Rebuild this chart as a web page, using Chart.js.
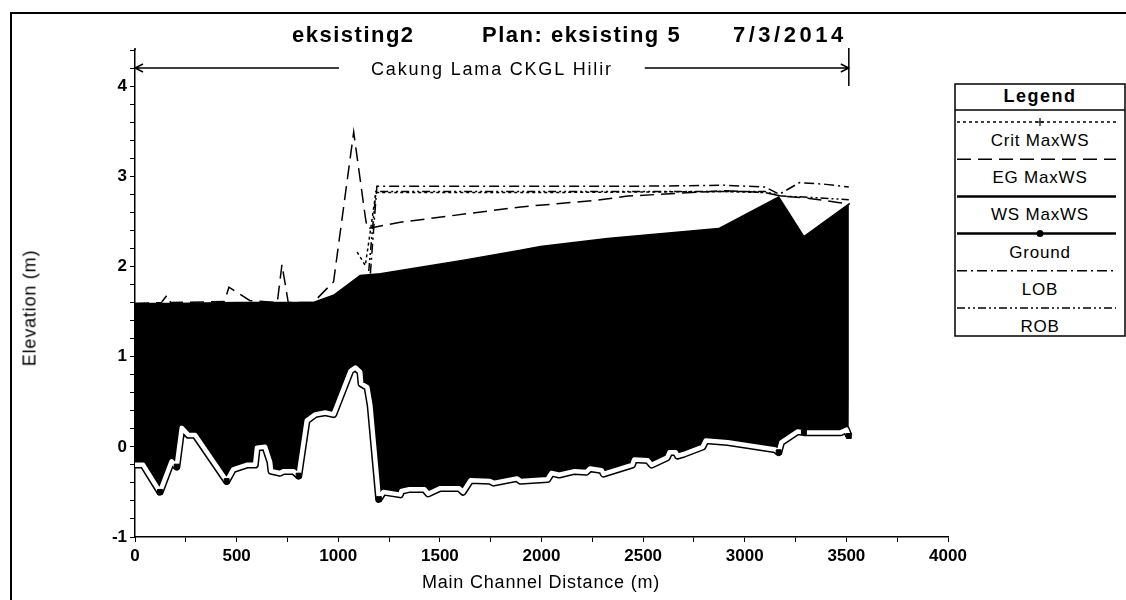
<!DOCTYPE html>
<html>
<head>
<meta charset="utf-8">
<script src="https://cdn.jsdelivr.net/npm/chart.js@4.4.0/dist/chart.umd.min.js"></script>
<style>
  body { margin: 0; background: #fff; font-family: Arial, "Liberation Sans", sans-serif; }
  #wrap { position: relative; width: 1126px; height: 600px; overflow: hidden; }
  #frame { position: absolute; left: 10px; top: 12px; width: 1200px; height: 700px;
           border-left: 2px solid #000; border-top: 2px solid #000; }
  canvas { position: absolute; left: 0; top: 0; }
  .ttl { position: absolute; top: 22px; font-weight: bold; font-size: 22px; letter-spacing: 1.5px; white-space: pre; }
  .axt { position: absolute; font-size: 18px; letter-spacing: 0.8px; white-space: pre; transform: translate(-50%, -50%); }
  #legend { position: absolute; left: 954px; top: 83px; }
</style>
</head>
<body>
<div id="wrap">
  <div id="frame"></div>
  <canvas id="profileChart" width="1126" height="600"></canvas>
  <div class="ttl" style="left:292px">eksisting2</div>
  <div class="ttl" style="left:482px">Plan: eksisting 5</div>
  <div class="ttl" style="left:733px;letter-spacing:3.5px">7/3/2014</div>
  <div class="axt" style="left:541px;top:582px">Main Channel Distance (m)</div>
  <div class="axt" style="left:30px;top:308px;transform:translate(-50%,-50%) rotate(-90deg)">Elevation (m)</div>
  <svg id="legend" width="172" height="254"></svg>
</div>
<script>
// ---- data (station m, elevation m) ----
const groundX = [0, 40, 123, 180, 205, 230, 263, 296, 451, 483, 550, 591, 600, 640, 665, 670, 714, 730, 780, 805,
  845, 887, 936, 977, 1060, 1084, 1108, 1113, 1143, 1158, 1200, 1222, 1305, 1311, 1350, 1424, 1443, 1500, 1595,
  1614, 1651, 1746, 1765, 1879, 1898, 2030, 2049, 2087, 2163, 2220, 2239, 2296, 2305, 2447, 2456, 2523, 2542,
  2618, 2630, 2660, 2670, 2700, 2793, 2808, 2916, 3150, 3167, 3180, 3261, 3291, 3473, 3500, 3512];
const groundY = [-0.2, -0.2, -0.5, -0.16, -0.22, 0.21, 0.13, 0.13, -0.38, -0.25, -0.2, -0.2, -0.01, 0, -0.17, -0.27, -0.29, -0.27, -0.27, -0.32,
  0.29, 0.36, 0.38, 0.36, 0.84, 0.88, 0.83, 0.7, 0.66, 0.46, -0.58, -0.5, -0.53, -0.49, -0.47, -0.47, -0.52, -0.46, -0.46,
  -0.5, -0.37, -0.38, -0.4, -0.35, -0.38, -0.36, -0.29, -0.31, -0.27, -0.28, -0.24, -0.26, -0.3, -0.2, -0.14, -0.15, -0.2,
  -0.12, -0.06, -0.06, -0.1, -0.08, 0, 0.07, 0.05, -0.03, -0.06, 0.05, 0.17, 0.16, 0.16, 0.19, 0.12];
const groundMarks = [123, 205, 451, 805, 1200, 3167, 3291, 3512];

const wsX = [0, 200, 500, 877, 977, 1108, 1207, 1617, 1897, 1995, 2325, 2872, 3167, 3291, 3517];
const wsY = [1.59, 1.59, 1.6, 1.6, 1.68, 1.9, 1.92, 2.07, 2.18, 2.22, 2.31, 2.42, 2.77, 2.33, 2.7];

const egX = [0, 130, 157, 175, 440, 462, 566, 700, 723, 754, 877, 977, 1076, 1133, 1143, 1305, 1897, 2256, 2424, 2900, 3100, 3180, 3300, 3458, 3512];
const egY = [1.59, 1.6, 1.68, 1.6, 1.61, 1.77, 1.62, 1.6, 2.02, 1.6, 1.6, 1.83, 3.49, 2.55, 2.42, 2.49, 2.66, 2.73, 2.78, 2.84, 2.82, 2.78, 2.76, 2.71, 2.69];

const critX = [1093, 1133, 1165, 1185, 2000, 2900, 3100];
const critY = [2.16, 2.01, 2.5, 2.82, 2.82, 2.83, 2.82];

const lobX = [1158, 1190, 2500, 2900, 3100, 3170, 3270, 3400, 3512];
const lobY = [1.92, 2.89, 2.89, 2.9, 2.88, 2.8, 2.93, 2.91, 2.88];

const robX = [1150, 1185, 3100, 3180, 3290, 3512];
const robY = [1.95, 2.83, 2.83, 2.78, 2.77, 2.74];

const xTickLabels = [0, 500, 1000, 1500, 2000, 2500, 3000, 3500, 4000];
const yTickLabels = [-1, 0, 1, 2, 3, 4];

const reachName = 'Cakung Lama CKGL Hilir';
const reachStart = 0;
const reachEnd = 3512;

const pts = (xs, ys) => xs.map((x, i) => ({ x: x, y: ys[i] }));

// legend entries: label + line style
const legendItems = [
  { label: 'Crit MaxWS', dash: [3, 3], width: 1.5, mark: 'cross' },
  { label: 'EG MaxWS', dash: [14, 7], width: 1.5 },
  { label: 'WS MaxWS', dash: [], width: 2.5 },
  { label: 'Ground', dash: [], width: 2.5, mark: 'dot' },
  { label: 'LOB', dash: [10, 4, 2, 4], width: 1.5 },
  { label: 'ROB', dash: [8, 3, 2, 3, 2, 3], width: 1.5 }
];

// reach arrow drawn above the plot
const reachArrow = {
  id: 'reachArrow',
  afterDraw(chart) {
    const ctx = chart.ctx;
    const xs = chart.scales.x;
    const x0 = xs.getPixelForValue(reachStart);
    const x1 = xs.getPixelForValue(reachEnd);
    const y = 68;
    ctx.save();
    ctx.font = '18px Arial';
    ctx.letterSpacing = '1.8px';
    const w = ctx.measureText(reachName).width;
    const cx = (x0 + x1) / 2;
    ctx.fillStyle = '#000';
    ctx.textAlign = 'center';
    ctx.textBaseline = 'middle';
    ctx.fillText(reachName, cx, y + 2);
    ctx.strokeStyle = '#000';
    ctx.lineWidth = 1.5;
    ctx.beginPath();
    ctx.moveTo(x0, y); ctx.lineTo(cx - w / 2 - 32, y);
    ctx.moveTo(cx + w / 2 + 32, y); ctx.lineTo(x1, y);
    // arrow heads
    ctx.moveTo(x0 + 8, y - 4); ctx.lineTo(x0, y); ctx.lineTo(x0 + 8, y + 4);
    ctx.moveTo(x1 - 8, y - 4); ctx.lineTo(x1, y); ctx.lineTo(x1 - 8, y + 4);
    // end bars
    ctx.moveTo(x0, 48); ctx.lineTo(x0, chart.chartArea.top);
    ctx.moveTo(x1, 48); ctx.lineTo(x1, 86);
    ctx.stroke();
    ctx.restore();
  }
};

new Chart(document.getElementById('profileChart').getContext('2d'), {
  type: 'line',
  data: {
    datasets: [
      { label: 'EG MaxWS', data: pts(egX, egY), borderColor: '#000', borderWidth: 1.5,
        borderDash: [14, 7], pointRadius: 0, order: 1 },
      { label: 'Crit MaxWS', data: pts(critX, critY), borderColor: '#000', borderWidth: 1.5,
        borderDash: [3, 3], pointRadius: 0, order: 1 },
      { label: 'LOB', data: pts(lobX, lobY), borderColor: '#000', borderWidth: 1.5,
        borderDash: [10, 4, 2, 4], pointRadius: 0, order: 1 },
      { label: 'ROB', data: pts(robX, robY), borderColor: '#000', borderWidth: 1.5,
        borderDash: [8, 3, 2, 3, 2, 3], pointRadius: 0, order: 1 },
      { label: 'marks', data: pts(groundX, groundY).filter(p => groundMarks.includes(p.x)),
        showLine: false, pointStyle: 'rect', pointRadius: 3.5, pointBackgroundColor: '#000',
        pointBorderColor: '#000', order: 2 },
      { label: 'Ground', data: pts(groundX, groundY), borderColor: '#fff', borderWidth: 4.5,
        borderJoinStyle: 'round', pointRadius: 0, order: 3 },
      { label: 'Ground edge', data: pts(groundX, groundY), borderColor: '#000', borderWidth: 7.5,
        borderJoinStyle: 'round', pointRadius: 0, order: 4 },
      { label: 'WS MaxWS', data: pts(wsX, wsY), borderColor: '#000', borderWidth: 1.5,
        backgroundColor: '#000', fill: 6, pointRadius: 0, order: 5 }
    ]
  },
  options: {
    responsive: false,
    animation: false,
    layout: { padding: { left: 0, top: 50, right: 178, bottom: 0 } },
    plugins: {
      legend: { display: false },
      tooltip: { enabled: false },
      title: { display: false }
    },
    scales: {
      x: {
        type: 'linear', min: 0, max: 4000,
        afterFit: s => { s.height = 63; },
        border: { display: true, color: '#000', width: 1.5 },
        grid: { display: true, drawOnChartArea: false, drawTicks: true, tickLength: 5, color: '#000' },
        ticks: {
          stepSize: 250, autoSkip: false, maxRotation: 0, padding: 4, color: '#000',
          font: { family: 'Arial', size: 17, weight: 'bold' },
          callback: v => xTickLabels.includes(v) ? String(v) : ''
        }
      },
      y: {
        type: 'linear', min: -1, max: 4.4,
        afterFit: s => { s.width = 135; },
        border: { display: true, color: '#000', width: 1.5 },
        grid: { display: true, drawOnChartArea: false, drawTicks: true, tickLength: 5, color: '#000' },
        ticks: {
          stepSize: 0.2, autoSkip: false, padding: 3, color: '#000',
          font: { family: 'Arial', size: 17, weight: 'bold' },
          callback: v => {
            const r = Math.round(v);
            return (Math.abs(v - r) < 1e-6 && yTickLabels.includes(r)) ? String(r) : '';
          }
        }
      }
    }
  },
  plugins: [reachArrow]
});

// legend box
(function buildLegend() {
  const svg = document.getElementById('legend');
  const NS = 'http://www.w3.org/2000/svg';
  const W = 170, H = 252;
  const add = (tag, attrs, text) => {
    const el = document.createElementNS(NS, tag);
    for (const k in attrs) el.setAttribute(k, attrs[k]);
    if (text) el.textContent = text;
    svg.appendChild(el);
    return el;
  };
  add('rect', { x: 1, y: 1, width: W, height: H, fill: '#fff', stroke: '#000', 'stroke-width': 1.5 });
  add('text', { x: 86, y: 19, 'text-anchor': 'middle', 'font-family': 'Arial', 'font-size': 18,
    'font-weight': 'bold', 'letter-spacing': 1.5 }, 'Legend');
  add('line', { x1: 1, y1: 27, x2: W + 1, y2: 27, stroke: '#000', 'stroke-width': 1.5 });
  legendItems.forEach((it, i) => {
    const ly = 39 + i * 37.2;
    add('line', { x1: 3, y1: ly, x2: 162, y2: ly, stroke: '#000', 'stroke-width': it.width,
      'stroke-dasharray': it.dash.length ? it.dash.join(' ') : 'none' });
    if (it.mark === 'dot') add('circle', { cx: 86, cy: ly, r: 3.5, fill: '#000' });
    if (it.mark === 'cross') add('path', { d: `M86 ${ly - 4} V${ly + 4} M82 ${ly} H90`, stroke: '#000', 'stroke-width': 1.2 });
    add('text', { x: 86, y: ly + 24, 'text-anchor': 'middle', 'font-family': 'Arial', 'font-size': 17,
      'letter-spacing': 0.8 }, it.label);
  });
})();
</script>
</body>
</html>
